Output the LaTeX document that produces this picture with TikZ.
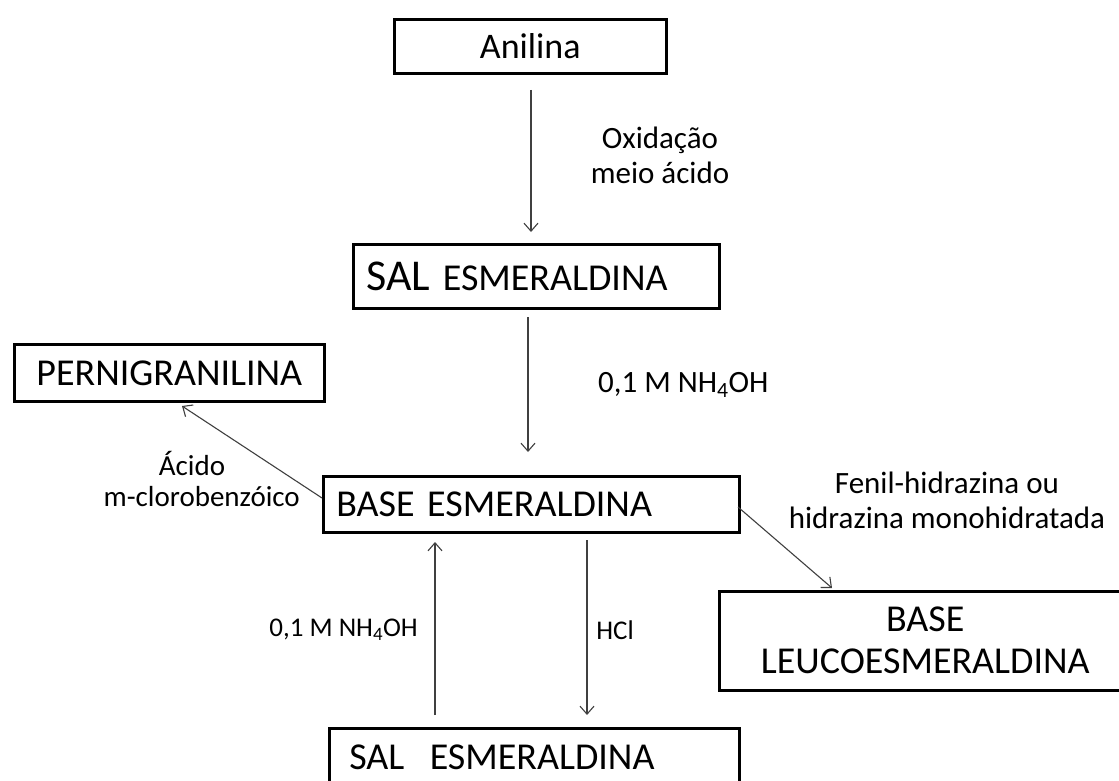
\documentclass[tikz,border=0pt]{standalone}
\usepackage{fontspec}
\setmainfont{Carlito}
\usetikzlibrary{arrows.meta}
\begin{document}
\begin{tikzpicture}[x=1pt,y=-1pt,
  box/.style={draw=black, line width=2.6pt, inner sep=0pt, font=\fontsize{38}{42}\selectfont},
  conn/.style={draw=black!75, line width=1.1pt, -{Straight Barb[length=8pt,width=14pt]}},
  lbl/.style={font=\fontsize{31}{35}\selectfont, align=center, inner sep=0pt},
  mid/.style={font=\fontsize{29}{33}\selectfont, inner sep=0pt},
  sml/.style={font=\fontsize{27}{32}\selectfont, inner sep=0pt}]
\useasboundingbox (0,0) rectangle (1119,781);
\clip (0,0) rectangle (1119,781);
\fill[white] (0,0) rectangle (1119,781);
% boxes
\node[box, anchor=north west, minimum width=272pt, minimum height=54pt, font=\fontsize{36}{40}\selectfont] (anil) at (393,18) {Anilina};
\node[box, anchor=north west, minimum height=64pt, inner xsep=13pt, text width=340pt, align=left] (sal1) at (352,243) {{\fontsize{44}{46}\selectfont SAL} ESMERALDINA};
\node[box, anchor=north west, minimum width=310pt, minimum height=57pt] (perni) at (13,343) {PERNIGRANILINA};
\node[box, anchor=north west, minimum height=56pt, inner xsep=13pt, text width=390pt, align=left] (base) at (322,475) {BASE ESMERALDINA};
\node[box, anchor=north west, minimum width=412pt, minimum height=99pt, align=center] (leuco) at (718,590) {BASE\\LEUCOESMERALDINA};
\node[box, anchor=north west, minimum height=58pt, inner xsep=20pt, text width=370pt, align=left] (sal2) at (328,727) {SAL\ \ ESMERALDINA};
% labels
\node[lbl] (ox) at (660,155) {Oxidação\\meio ácido};
\node[lbl, anchor=west] (nh1) at (598,385) {0,1 M NH\textsubscript{4}OH};
\node[mid] (acid1) at (192,463) {Ácido};
\node[mid, anchor=east] (acid2) at (300,497) {m-clorobenzóico};
\node[lbl] (fen) at (947,500) {Fenil-hidrazina ou\\hidrazina monohidratada};
\node[sml, anchor=east] (nh2) at (418,630) {0,1 M NH\textsubscript{4}OH};
\node[sml] (hcl) at (615,630) {HCl};
% connector ends
\coordinate (a1s) at (531,90);  \coordinate (a1e) at (531,232);
\coordinate (a2s) at (528,317); \coordinate (a2e) at (528,452);
\coordinate (a3s) at (322,498); \coordinate (a3e) at (182,406);
\coordinate (a4s) at (738,507); \coordinate (a4e) at (832,588);
\coordinate (a5s) at (435,715); \coordinate (a5e) at (435,542);
\coordinate (a6s) at (587,540); \coordinate (a6e) at (587,715);
\draw[conn] (a1s) -- (a1e);
\draw[conn] (a2s) -- (a2e);
\draw[conn] (a3s) -- (a3e);
\draw[conn] (a4s) -- (a4e);
\draw[conn] (a5s) -- (a5e);
\draw[conn] (a6s) -- (a6e);
\end{tikzpicture}
\end{document}
